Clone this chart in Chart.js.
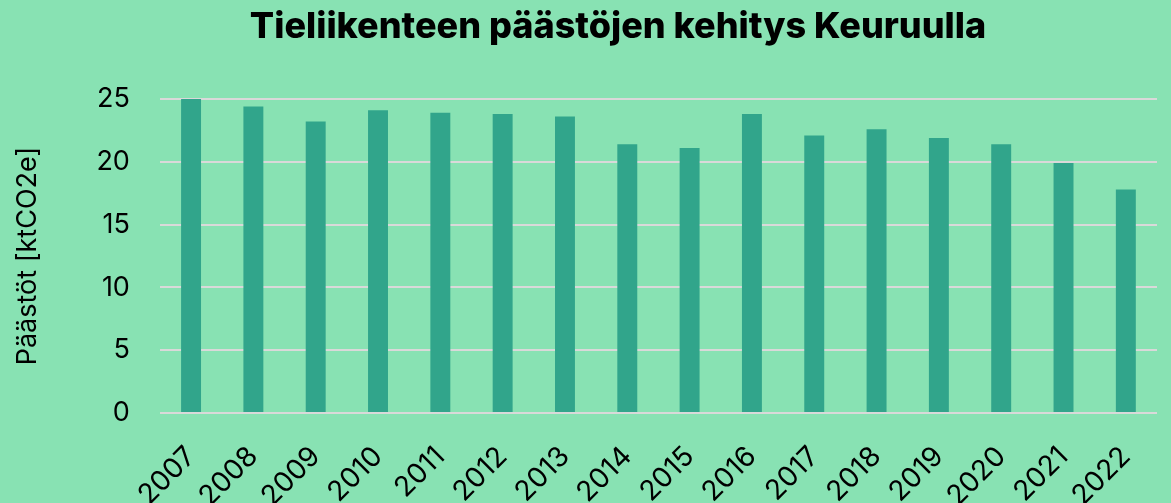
<!DOCTYPE html>
<html>
<head>
<meta charset="utf-8">
<script src="https://cdn.jsdelivr.net/npm/chart.js@4"></script>
<style>
  html, body { margin: 0; padding: 0; background: #88e2b3; }
  #wrap { width: 1171px; height: 503px; }
</style>
</head>
<body>
<div id="wrap"><canvas id="myChart"></canvas></div>
<script>
const years = ['2007', '2008', '2009', '2010', '2011', '2012', '2013', '2014', '2015', '2016', '2017', '2018', '2019', '2020', '2021', '2022'];
const emissions = [25.0, 24.4, 23.2, 24.1, 23.9, 23.8, 23.6, 21.4, 21.1, 23.8, 22.1, 22.6, 21.9, 21.4, 19.9, 17.8];
const yTicks = [0, 5, 10, 15, 20, 25];
const chartTitle = 'Tieliikenteen päästöjen kehitys Keuruulla';
const yTitle = 'Päästöt [ktCO2e]';

// title drawn by hand, it sits a bit right of canvas centre in the original
const titlePlugin = {
  id: 'ownTitle',
  afterDraw(chart) {
    const c = chart.ctx;
    c.save();
    c.font = '800 36px Inter';
    c.fillStyle = '#000';
    c.textAlign = 'center';
    c.textBaseline = 'alphabetic';
    c.fillText(chartTitle, 618, 38);
    c.restore();
  }
};

const ctx = document.getElementById('myChart');

new Chart(ctx, {
  type: 'bar',
  data: {
    labels: years,
    datasets: [{
      data: emissions,
      backgroundColor: '#31a58b',
      borderWidth: 0,
      barPercentage: 0.64,
      categoryPercentage: 0.5
    }]
  },
  options: {
    responsive: true,
    maintainAspectRatio: false,
    animation: false,
    layout: {
      padding: { top: 99, right: 14, left: 12, bottom: 0 }
    },
    scales: {
      x: {
        grid: { display: false },
        border: { display: false },
        ticks: {
          color: '#000',
          font: { family: 'Inter', size: 28 },
          maxRotation: 45,
          minRotation: 45,
          padding: 19
        },
        afterFit(scale) { scale.height = 90; }
      },
      y: {
        min: 0,
        max: 25,
        afterBuildTicks(scale) { scale.ticks = yTicks.map(v => ({ value: v })); },
        grid: { color: '#d9d9d9', lineWidth: 2, drawTicks: false },
        border: { display: false },
        ticks: {
          color: '#000',
          font: { family: 'Inter', size: 27 },
          padding: 30
        },
        title: {
          display: true,
          text: yTitle,
          color: '#000',
          font: { family: 'Inter', size: 27 },
          padding: { top: 0, bottom: 22 }
        }
      }
    },
    plugins: {
      legend: { display: false },
      title: { display: false },
      tooltip: { enabled: false }
    }
  },
  plugins: [titlePlugin]
});
</script>
</body>
</html>
